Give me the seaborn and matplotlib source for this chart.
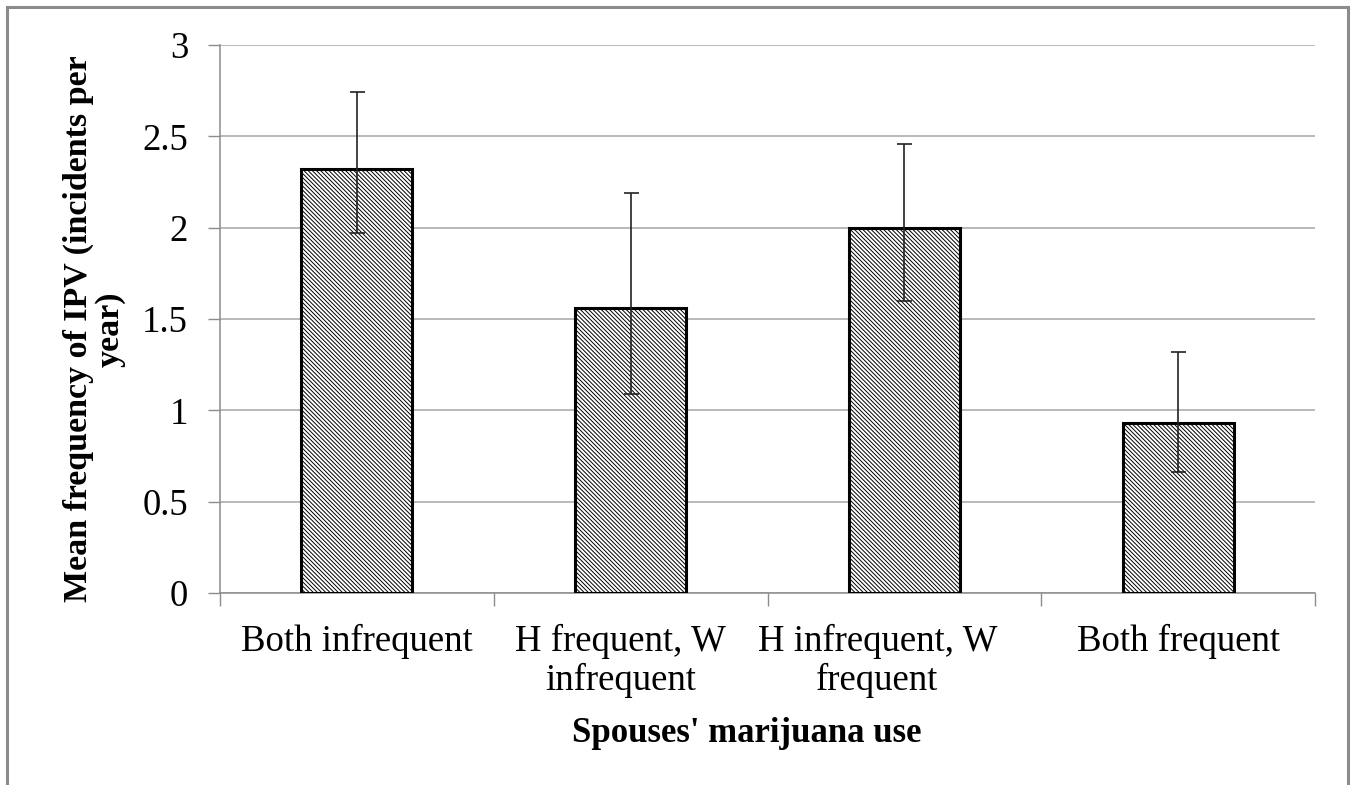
import matplotlib
matplotlib.use("Agg")
import matplotlib.pyplot as plt
import matplotlib.transforms as mtransforms
from matplotlib.patches import Rectangle
import seaborn as sns
import pandas as pd

# Mean IPV frequency by spouses' marijuana-use group, with asymmetric error limits
categories = ["Both infrequent", "H frequent, W\ninfrequent",
              "H infrequent, W\nfrequent", "Both frequent"]
means = [2.32, 1.56, 2.00, 0.93]
upper = [2.74, 2.19, 2.46, 1.32]
lower = [1.97, 1.09, 1.60, 0.66]
yticks = [0, 0.5, 1, 1.5, 2, 2.5, 3]

df = pd.DataFrame({"group": categories, "mean": means})

sns.set_theme(style="white")
plt.rcParams["font.family"] = ["Liberation Serif", "DejaVu Serif"]
plt.rcParams["hatch.linewidth"] = 0.7
plt.rcParams["text.color"] = "black"
plt.rcParams["axes.labelcolor"] = "black"
plt.rcParams["xtick.labelcolor"] = "black"
plt.rcParams["ytick.labelcolor"] = "black"

W, H = 1352, 785
fig = plt.figure(figsize=(W / 100, H / 100), dpi=100)
ax = fig.add_axes([220 / W, 1 - 593 / H, (1315 - 220) / W, (593 - 45) / H])

sns.barplot(data=df, x="group", y="mean", ax=ax, color="white", saturation=1,
            width=0.405, edgecolor="black", linewidth=2.2,
            hatch="\\\\\\\\\\\\\\\\", errorbar=None, zorder=3)

xs = list(range(len(categories)))
err_low = [m - lo for m, lo in zip(means, lower)]
err_up = [up - m for m, up in zip(means, upper)]
ax.errorbar(xs, means, yerr=[err_low, err_up], fmt="none", ecolor="#222222",
            elinewidth=1.2, capsize=5.4, capthick=1.2, zorder=4)

ax.set_ylim(0, 3)
ax.set_xlim(-0.5, len(categories) - 0.5)
ax.set_yticks(yticks)
ax.set_yticklabels([f"{t:g}" for t in yticks])
ax.set_xticks([i - 0.5 for i in range(len(categories) + 1)], minor=False)
ax.set_xticklabels([])
ax.set_xticks(xs, minor=True)
ax.set_xticklabels(categories, minor=True, fontsize=26.5, linespacing=1.17)
ax.tick_params(axis="x", which="minor", length=0, pad=22)
ax.tick_params(axis="x", which="major", length=9, width=1.0, color="#8c8c8c",
               direction="out", bottom=True)
ax.tick_params(axis="y", length=9, width=1.0, color="#8c8c8c", direction="out",
               left=True, pad=14, labelsize=26.5)

ax.grid(axis="y", color="#a6a6a6", linewidth=1.1, zorder=0)
ax.set_axisbelow(True)
for side in ["top", "right"]:
    ax.spines[side].set_visible(False)
for side in ["left", "bottom"]:
    ax.spines[side].set_color("#8c8c8c")
    ax.spines[side].set_linewidth(1.1)

# nudge the two wrapped labels to sit where the text block centres
shifts = [0, -10, -27, 0]
for lab, dx in zip(ax.get_xticklabels(minor=True), shifts):
    lab.set_transform(lab.get_transform() +
                      mtransforms.ScaledTranslation(dx / 100, 0, fig.dpi_scale_trans))

ax.set_xlabel("Spouses' marijuana use", fontsize=25, fontweight="bold")
ax.xaxis.set_label_coords((747 - 220) / 1095, (593 - 733) / 548)
ax.xaxis.label.set_va("center")

ax.set_ylabel("Mean frequency of IPV (incidents per\nyear)", fontsize=24.5,
              fontweight="bold", linespacing=1.0, multialignment="center")
ax.yaxis.set_label_coords((94 - 220) / 1095, (593 - 329) / 548)
ax.yaxis.label.set_va("center")

# outer frame around the chart area
fig.patches.append(Rectangle((7 / W, -0.1), (1348 - 7) / W, 1.1 - 7 / H,
                             transform=fig.transFigure, fill=False,
                             edgecolor="#8c8c8c", linewidth=2.2))

fig.savefig("out.png", dpi=100)
